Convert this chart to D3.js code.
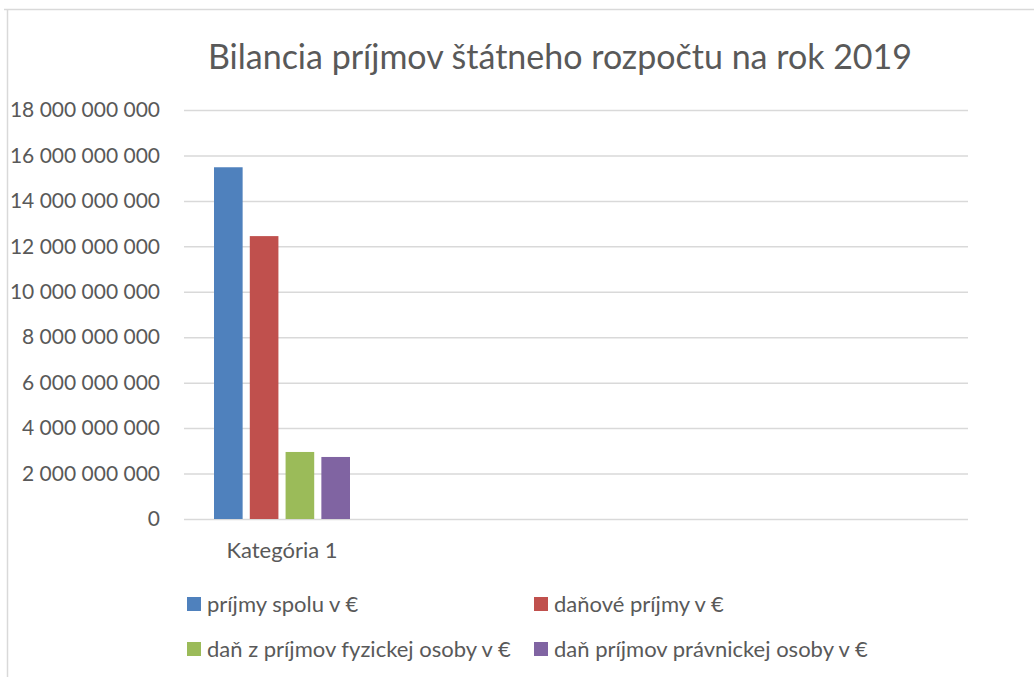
<!DOCTYPE html>
<html>
<head>
<meta charset="utf-8">
<script src="https://cdn.jsdelivr.net/npm/d3@7"></script>
<style>
  body { margin: 0; background: #fff; }
  svg text { font-family: Lato, "Open Sans", sans-serif; fill: #595959; }
</style>
</head>
<body>
<svg id="chart" width="1034" height="677"></svg>
<script>
// chart data
var title = 'Bilancia príjmov štátneho rozpočtu na rok 2019';
var categories = ['Kategória 1', '', '', ''];
var seriesNames = [
  'príjmy spolu v €',
  'daňové príjmy v €',
  'daň z príjmov fyzickej osoby v €',
  'daň príjmov právnickej osoby v €'
];
var seriesValues = [15480000000, 12450000000, 2950000000, 2730000000];
var seriesColors = ['#4f81bd', '#c0504d', '#9bbb59', '#8064a2'];
var yTicks = [0, 2e9, 4e9, 6e9, 8e9, 10e9, 12e9, 14e9, 16e9, 18e9];

var svg = d3.select('#chart');

// chart frame (only top and left edges visible in the picture)
svg.append('path')
  .attr('d', 'M4,9.5H1034M7.5,9.5V677')
  .attr('fill', 'none')
  .attr('stroke', '#d9d9d9')
  .attr('stroke-width', 1.5);

svg.append('text')
  .attr('x', 560).attr('y', 69)
  .attr('text-anchor', 'middle')
  .style('font-size', '34px')
  .text(title);

var M = { left: 184, right: 968, top: 110, bottom: 519 };

var x = d3.scaleBand()
  .domain(d3.range(categories.length))
  .range([M.left, M.right]);

var y = d3.scaleLinear()
  .domain([0, 18e9])
  .range([M.bottom, M.top]);

var fmt = function(v) {
  return d3.format(',')(v).replace(/,/g, ' ');
};

// gridlines + labels
var yAxis = svg.append('g')
  .attr('transform', 'translate(' + M.left + ',0)')
  .call(d3.axisLeft(y).tickValues(yTicks).tickFormat(fmt)
    .tickSize(-(M.right - M.left)).tickPadding(24));
yAxis.select('.domain').remove();
yAxis.selectAll('.tick line').attr('stroke', '#d9d9d9').attr('stroke-width', 1.5);
yAxis.selectAll('.tick text')
  .style('font-size', '21px')
  .style('fill', '#595959')
  .style('font-family', 'Lato, "Open Sans", sans-serif');

// bars within first category band
var inner = d3.scaleBand()
  .domain(d3.range(seriesNames.length))
  .range([x(0) + 30, x(0) + 166])
  .paddingInner(0.2);

svg.append('g').selectAll('rect')
  .data(seriesValues)
  .enter()
  .append('rect')
  .attr('x', function(d, i) { return inner(i); })
  .attr('width', inner.bandwidth())
  .attr('y', function(d) { return y(d); })
  .attr('height', function(d) { return y(0) - y(d); })
  .attr('fill', function(d, i) { return seriesColors[i]; });

// category labels
svg.append('g').selectAll('text')
  .data(categories)
  .enter()
  .append('text')
  .attr('x', function(d, i) { return x(i) + x.bandwidth() / 2; })
  .attr('y', 558)
  .attr('text-anchor', 'middle')
  .style('font-size', '22px')
  .text(function(d) { return d; });

// legend, 2 columns
var legendPos = [[187, 612], [534, 612], [187, 657], [534, 657]];
var legend = svg.append('g').selectAll('g')
  .data(seriesNames)
  .enter()
  .append('g')
  .attr('transform', function(d, i) {
    return 'translate(' + legendPos[i][0] + ',' + legendPos[i][1] + ')';
  });
legend.append('rect')
  .attr('x', 0).attr('y', -15)
  .attr('width', 14).attr('height', 14)
  .attr('fill', function(d, i) { return seriesColors[i]; });
legend.append('text')
  .attr('x', 20).attr('y', 0)
  .style('font-size', '22px')
  .text(function(d) { return d; });
</script>
</body>
</html>
